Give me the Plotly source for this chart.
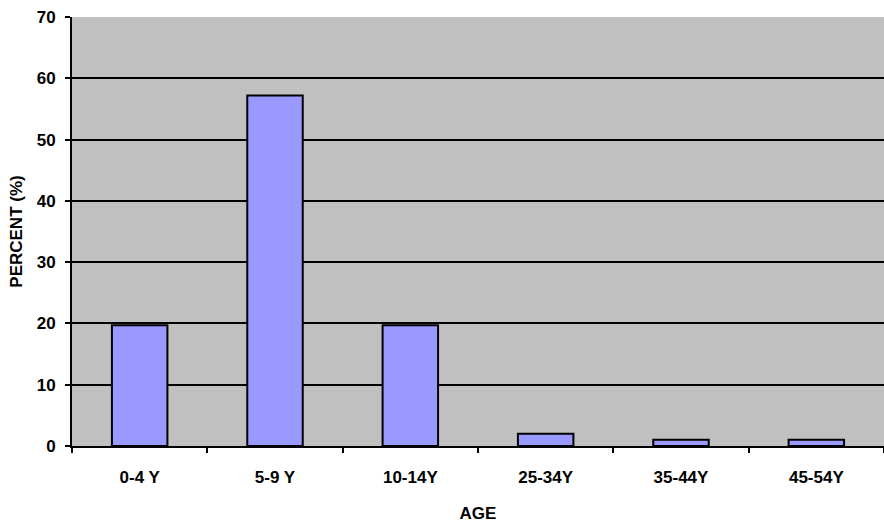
import plotly.graph_objects as go

# Age distribution of cases
age_groups = ["0-4 Y", "5-9 Y", "10-14Y", "25-34Y", "35-44Y", "45-54Y"]
percent = [19.7, 57.2, 19.7, 2.0, 1.0, 1.0]
y_ticks = [0, 10, 20, 30, 40, 50, 60, 70]

FONT = "Liberation Sans, Arial, sans-serif"

fig = go.Figure(
    go.Bar(
        x=age_groups,
        y=percent,
        marker=dict(color="#9999FF", line=dict(color="black", width=2)),
        hoverinfo="x+y",
    )
)

fig.update_layout(
    width=884,
    height=523,
    margin=dict(l=72, r=0, t=17, b=77),
    paper_bgcolor="white",
    plot_bgcolor="#C0C0C0",
    bargap=0.59,
    showlegend=False,
    font=dict(family=FONT, size=17, color="black"),
)

fig.update_xaxes(
    type="category",
    showline=True,
    linecolor="black",
    linewidth=2,
    ticks="outside",
    tickson="boundaries",
    ticklen=5,
    tickwidth=2,
    tickcolor="black",
    ticklabelstandoff=15,
    tickfont=dict(family=FONT, size=17, weight="bold"),
    showgrid=False,
    title=dict(text="<b>AGE</b>", font=dict(family=FONT, size=17), standoff=23),
)

fig.update_yaxes(
    range=[0, 70],
    tickvals=y_ticks,
    showline=True,
    linecolor="black",
    linewidth=2,
    ticks="outside",
    ticklen=5,
    tickwidth=2,
    tickcolor="black",
    ticklabelstandoff=6,
    tickfont=dict(family=FONT, size=17, weight="bold"),
    showgrid=True,
    gridcolor="black",
    gridwidth=2,
    zeroline=False,
    title=dict(text="<b>PERCENT (%)</b>", font=dict(family=FONT, size=17), standoff=10),
)

fig.write_html("out.html")
